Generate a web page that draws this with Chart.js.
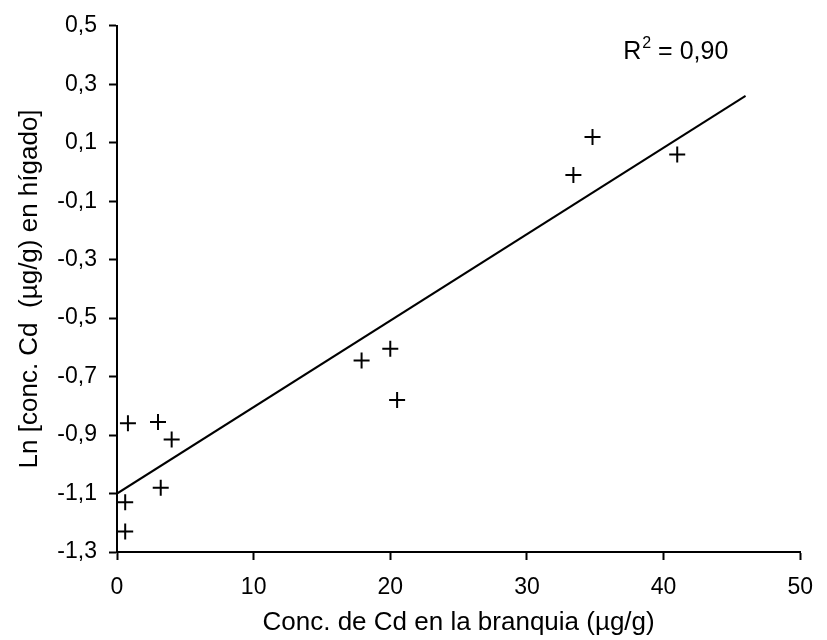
<!DOCTYPE html>
<html>
<head>
<meta charset="utf-8">
<script src="https://cdn.jsdelivr.net/npm/chart.js@4"></script>
<style>
  html, body { margin: 0; padding: 0; background: #fff; }
</style>
</head>
<body>
<canvas id="jsChart" width="827" height="640"></canvas>
<script>
// Cd en branquia (x) frente a Ln de Cd en hígado (y)
const branquia = [0.8, 3.0, 4.0, 3.2, 0.6, 0.6, 17.9, 20.0, 20.5, 34.8, 33.4, 41.0]
const higado = [-0.86, -0.855, -0.915, -1.08, -1.13, -1.23, -0.645, -0.605, -0.78, 0.12, -0.01, 0.06]

// recta de regresión (extremos)
const rectaX = [0, 46]
const rectaY = [-1.10, 0.26]

const xTicks = [0, 10, 20, 30, 40, 50]
const yTicks = [-1.3, -1.1, -0.9, -0.7, -0.5, -0.3, -0.1, 0.1, 0.3, 0.5]
const rCuadrado = '0,90'

const FONT = '"Liberation Sans", Arial, sans-serif'
const SIZE = 23
const TITLE_SIZE = 26

Chart.defaults.font.family = FONT
Chart.defaults.font.size = SIZE
Chart.defaults.color = '#000'

/**
 * @description etiqueta R² en la esquina superior derecha
*/
const r2Label = {
    id: 'r2Label',
    afterDraw(chart) {
        let ctx = chart.ctx
        let x = chart.chartArea.right - 177
        let y = chart.chartArea.top + 33
        ctx.save()
        ctx.fillStyle = '#000'
        ctx.textBaseline = 'alphabetic'
        ctx.font = `25px ${FONT}`
        ctx.fillText('R', x, y)
        x += ctx.measureText('R').width + 1
        ctx.font = `16px ${FONT}`
        ctx.fillText('2', x, y - 11)
        x += ctx.measureText('2').width
        ctx.font = `25px ${FONT}`
        ctx.fillText(' = ' + rCuadrado, x, y)
        ctx.restore()
    }
}

function fmt(v) {
    return Number(v).toFixed(1).replace('.', ',')
}

let puntos = branquia.map((x, i) => ({ x: x, y: higado[i] }))
let recta = rectaX.map((x, i) => ({ x: x, y: rectaY[i] }))

new Chart(document.getElementById('jsChart'), {
    type: 'scatter',
    data: {
        datasets: [{
            data: puntos,
            pointStyle: 'cross',
            pointRadius: 8,
            pointHoverRadius: 8,
            borderColor: '#000',
            backgroundColor: '#000',
            borderWidth: 2
        }, {
            type: 'line',
            data: recta,
            borderColor: '#000',
            borderWidth: 2,
            pointRadius: 0,
            fill: false
        }]
    },
    options: {
        responsive: false,
        animation: false,
        devicePixelRatio: 1,
        layout: { padding: { top: 21, right: 18, left: 0, bottom: 0 } },
        plugins: {
            legend: { display: false },
            tooltip: { enabled: false }
        },
        scales: {
            x: {
                type: 'linear',
                min: 0,
                max: 50,
                afterBuildTicks: s => { s.ticks = xTicks.map(v => ({ value: v })) },
                afterFit: s => { s.height = 88 },
                border: { display: true, color: '#000', width: 2 },
                grid: { drawOnChartArea: false, tickLength: 8, tickColor: '#000', tickWidth: 2 },
                ticks: { padding: 14, maxRotation: 0, callback: v => String(v) },
                title: {
                    display: true,
                    text: 'Conc. de Cd en la branquia (µg/g)',
                    font: { size: TITLE_SIZE },
                    padding: { top: 0, bottom: 2 }
                }
            },
            y: {
                type: 'linear',
                min: -1.3,
                max: 0.5,
                afterBuildTicks: s => { s.ticks = yTicks.map(v => ({ value: v })) },
                afterFit: s => { s.width = 117 },
                border: { display: true, color: '#000', width: 2 },
                grid: { drawOnChartArea: false, tickLength: 8, tickColor: '#000', tickWidth: 2 },
                ticks: { padding: 12, callback: v => fmt(v) },
                title: {
                    display: true,
                    text: 'Ln [conc. Cd  (µg/g) en hígado]',
                    font: { size: TITLE_SIZE },
                    padding: { top: 14, bottom: 0 }
                }
            }
        }
    },
    plugins: [r2Label]
})
</script>
</body>
</html>
